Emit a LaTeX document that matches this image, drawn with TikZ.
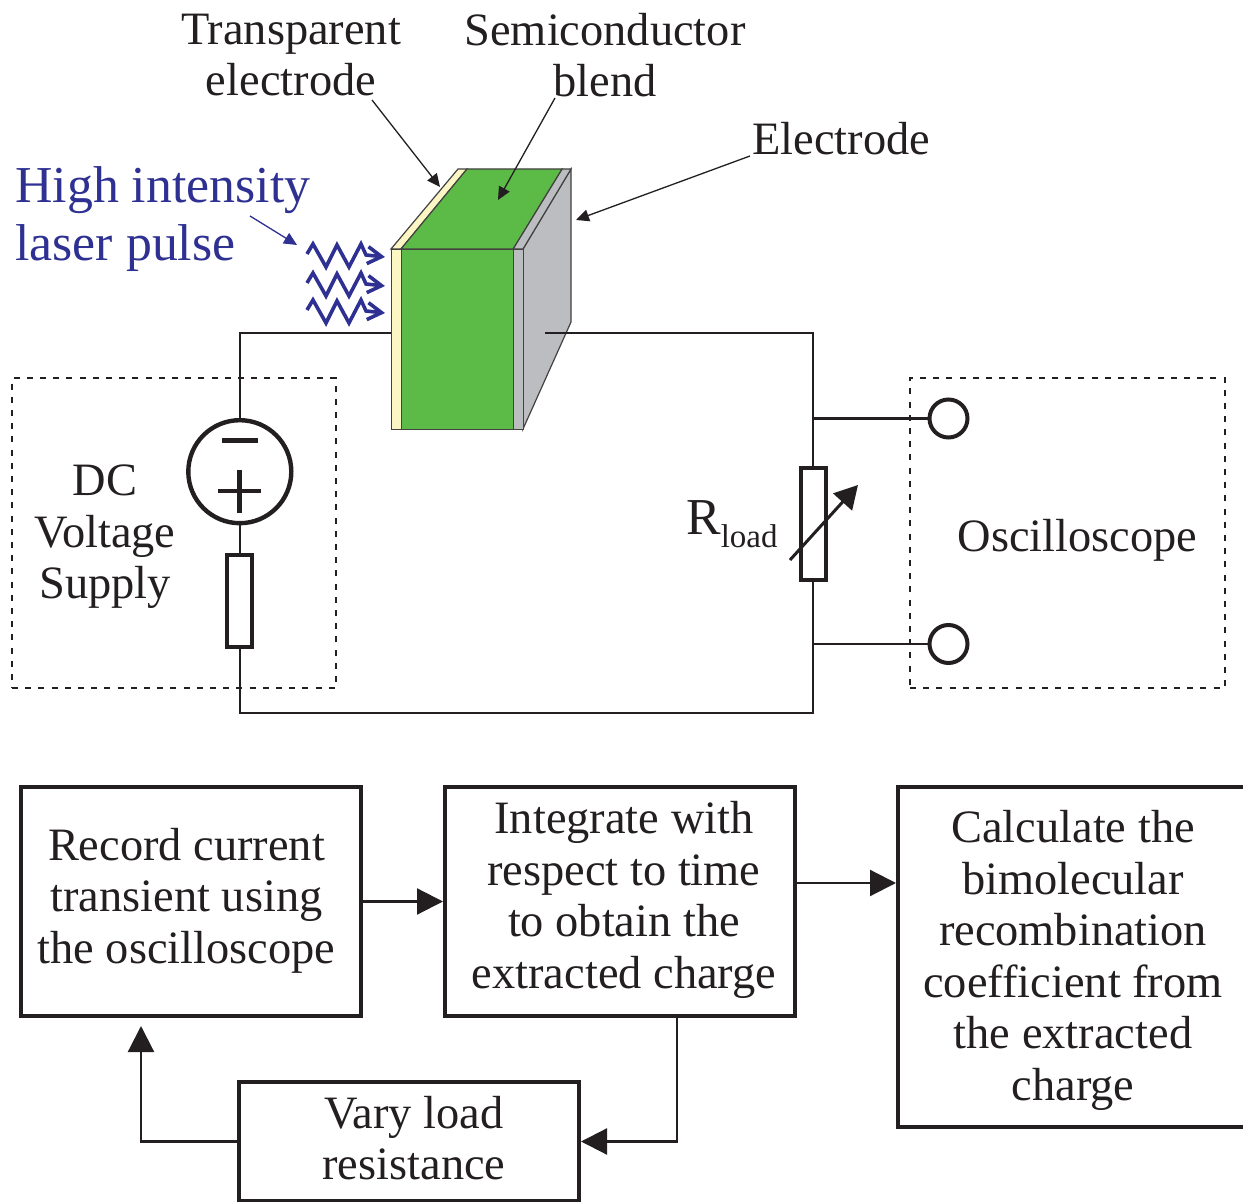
\documentclass[tikz,border=0pt]{standalone}
\usepackage{fontspec}
\setmainfont{Liberation Serif}
\usetikzlibrary{arrows.meta}
\usetikzlibrary{positioning}
\definecolor{laserblue}{HTML}{2E3192}
\definecolor{ink}{HTML}{231F20}
\definecolor{blendgreen}{HTML}{5CBB47}
\definecolor{itoyellow}{HTML}{FBF6C3}
\definecolor{metalgrey}{HTML}{BBBDC0}
\tikzset{x=0.5pt, y=-0.5pt, every node/.style={text=ink}, font=\fontsize{23.2}{25.75}\selectfont}
\tikzset{wire/.style={draw=ink, line width=1.1pt}}
\tikzset{leader/.style={draw=ink, line width=0.65pt, -{Triangle[length=6.5pt,width=6pt]}}}
\tikzset{flow/.style={draw=ink, line width=1.1pt, -{Triangle[length=13pt,width=13pt]}}}
\tikzstyle{stage} = [draw=ink, line width=2pt, rectangle, inner sep=0pt, align=center]
\tikzstyle{res} = [draw=ink, fill=white, line width=2pt, rectangle, inner sep=0pt, minimum width=12.5pt]
\tikzstyle{terminal} = [draw=ink, fill=white, line width=2pt, circle, inner sep=0pt, minimum size=19pt]
\tikzstyle{layer} = [draw=ink!85, line width=0.6pt, rectangle, inner sep=0pt, minimum height=90pt, anchor=north west]
\tikzstyle{bench} = [draw=ink, line width=1.3pt, dash pattern=on 3pt off 3.6pt]
\tikzstyle{tag} = [inner sep=0pt, align=center]
\newcommand{\nudged}[3]{\raisebox{#2}[\height][\depth]{\hspace*{#1}\begin{tabular}{@{}c@{}}#3\end{tabular}\hspace*{-#1}}}

\begin{document}
\begin{tikzpicture}
	\useasboundingbox (0,0) rectangle (1243,1202);

	% test bench
	\node [bench, minimum width=162pt, minimum height=155pt, inner sep=0pt] (supply_box) at (174,533) {};
	\node [bench, minimum width=157.5pt, minimum height=155pt, inner sep=0pt] (scope_box) at (1067.5,533) {};

	% sample
	\coordinate (wire_l) at (391,333);
	\coordinate (wire_r) at (545,333);
	\draw [wire] (wire_l) -- (239.8,333) -- (239.8,419);
	\draw [draw=ink!85, line width=0.6pt, fill=metalgrey] (523,249) -- (571,169) -- (571,322) -- (523,429) -- cycle;
	\draw [draw=ink!85, line width=0.6pt, fill=itoyellow] (391,249) -- (458,169) -- (467,169) -- (401,249) -- cycle;
	\draw [draw=ink!85, line width=0.6pt, fill=metalgrey] (513,249) -- (562,169) -- (571,169) -- (523,249) -- cycle;
	\draw [draw=ink!85, line width=0.6pt, fill=blendgreen] (401,249) -- (467,169) -- (562,169) -- (513,249) -- cycle;
	\node [layer, fill=itoyellow, minimum width=5pt] (ito) at (391,249) {};
	\node [layer, fill=blendgreen, minimum width=56pt] (blend) at (401,249) {};
	\node [layer, fill=metalgrey, minimum width=5pt] (metal) at (513,249) {};

	% source and resistors
	\node [circle, draw=ink, fill=white, line width=2.2pt, minimum size=51.5pt, inner sep=0pt] (source) at (239.8,471.7) {};
	\draw [ink, line width=2.8pt] (221.7,440.7) -- (258.3,440.7);
	\draw [ink, line width=2.3pt] (218,491) -- (260.7,491);
	\draw [ink, line width=2.8pt] (239.3,470) -- (239.3,512.7);
	\node [res, minimum height=46pt] (r_int) at (239.8,601) {};
	\node [res, minimum height=56pt] (r_load) at (813.2,524) {};
	\node [terminal] (t_up) at (948.5,418.5) {};
	\node [terminal] (t_low) at (948.5,644) {};
	\draw [wire] (source) -- (r_int);
	\draw [wire] (r_int) -- (239.8,713) -- (813.2,713) -- (r_load);
	\draw [wire] (wire_r) -- (813.2,333) -- (r_load);
	\draw [wire] (813.2,418.5) -- (t_up);
	\draw [wire] (813.2,644) -- (t_low);
	\draw [draw=ink, line width=1.5pt, -{Triangle[length=11.5pt,width=12.5pt]}] (790,560) -- (858,485);

	% laser
	\foreach \y in {257,286,313} {
		\draw [laserblue, line width=1.8pt, line join=miter, -{Straight Barb[length=7pt,width=8.5pt]}]
			(307,\y-3) -- ++(6,-10) -- ++(13,23) -- ++(11,-22) -- ++(12,22) -- ++(12,-23) -- ++(5,11) -- (385,\y);
	}

	% labels
	\node [tag] (l_ito) at (291,55) {Transparent\\electrode};
	\node [tag] (l_blend) at (605,55) {Semiconductor\\blend};
	\node [tag, anchor=west] (l_metal) at (752,139) {Electrode};
	\node [tag, anchor=north west, align=left, text=laserblue, font=\fontsize{25.9}{29}\selectfont] (l_laser) at (15,166) {High intensity\\laser pulse};
	\node [tag] (l_supply) at (105,537) {DC\\Voltage\\Supply};
	\node [tag] (l_scope) at (1077.5,540) {Oscilloscope};
	\node [tag, anchor=base east, font=\fontsize{25.9}{29}\selectfont] (l_rload) at (778,535) {R\raisebox{-6.5pt}{\fontsize{16.5}{18}\selectfont load}};

	\coordinate (p_ito) at (440,187);
	\coordinate (p_blend) at (498,200);
	\coordinate (p_metal) at (576,220);
	\coordinate (p_laser) at (297,245);
	\draw [leader] (372,100) -- (p_ito);
	\draw [leader] (555,98) -- (p_blend);
	\draw [leader] (750,156) -- (p_metal);
	\draw [leader, draw=laserblue, fill=laserblue] (250,216) -- (p_laser);

	% procedure
	\node [stage, minimum width=170pt, minimum height=114.5pt] (record) at (191,901.5) {\nudged{-2.25pt}{0pt}{Record current\\transient using\\the oscilloscope}};
	\node [stage, minimum width=175pt, minimum height=114.5pt] (integrate) at (620,901.5) {\nudged{2pt}{0.5pt}{Integrate with\\respect to time\\to obtain the\\extracted charge}};
	\node [stage, minimum width=175pt, minimum height=170pt] (calculate) at (1073,957) {\nudged{0pt}{-2pt}{Calculate the\\bimolecular\\recombination\\coefficient from\\the extracted\\charge}};
	\node [stage, minimum width=170pt, minimum height=59.5pt] (vary) at (409,1141.5) {\nudged{2.5pt}{-1pt}{Vary load\\resistance}};

	\draw [flow] (record) -- (integrate);
	\draw [flow] (integrate.east |- 0,883) -- (calculate.west |- 0,883);
	\draw [flow] (integrate.south -| 677,0) |- (vary);
	\draw [flow] (vary) -| (141,1026);
\end{tikzpicture}
\end{document}
